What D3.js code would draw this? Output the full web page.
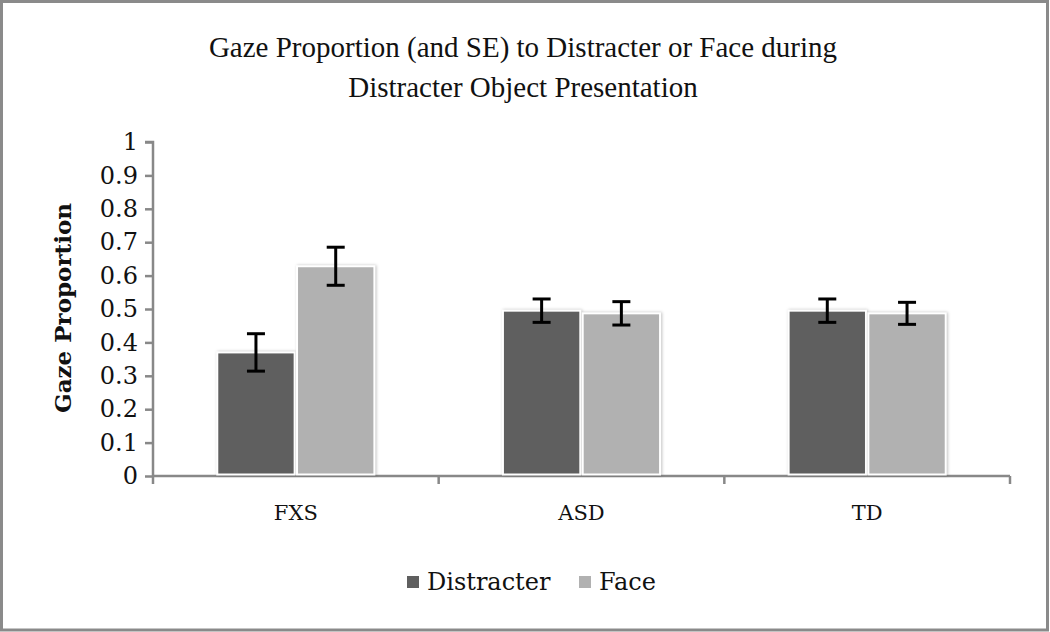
<!DOCTYPE html>
<html><head><meta charset="utf-8">
<script src="https://cdn.jsdelivr.net/npm/d3@7"></script>
<style>body{margin:0;background:#fff}svg{display:block}</style>
</head><body>
<svg id="c" width="1050" height="632"></svg>
<script>
const categories = ["FXS", "ASD", "TD"];
const seriesNames = ["Distracter", "Face"];
const distracterValues = [0.370, 0.495, 0.495];
const faceValues = [0.628, 0.487, 0.487];
const distracterSE = [0.056, 0.035, 0.035];
const faceSE = [0.057, 0.035, 0.033];
const yTicks = [0, 0.1, 0.2, 0.3, 0.4, 0.5, 0.6, 0.7, 0.8, 0.9, 1];
const titleLines = ["Gaze Proportion (and SE) to Distracter or Face during", "Distracter Object Presentation"];
const yTitle = "Gaze Proportion";
const colors = {"Distracter": "#5f5f5f", "Face": "#b1b1b1"};

const svg = d3.select("#c");
svg.append("rect").attr("x", 1.5).attr("y", 1.5).attr("width", 1046).attr("height", 628.5)
  .attr("fill", "#fff").attr("stroke", "#8a8a8a").attr("stroke-width", 3);

const pLeft = 153, pRight = 1010, pTop = 142, pBottom = 476;
const x0 = d3.scaleBand().domain(categories).range([pLeft, pRight]).paddingInner(0.45).paddingOuter(0.225);
const x1 = d3.scaleBand().domain(seriesNames).range([0, x0.bandwidth()]).paddingInner(0.03);
const y = d3.scaleLinear().domain([0, 1]).range([pBottom, pTop]);

// title
svg.append("g").selectAll("text").data(titleLines).join("text")
  .attr("x", 523).attr("y", (d, i) => 57 + i * 40)
  .attr("text-anchor", "middle").attr("font-family", "Liberation Serif")
  .attr("font-size", 29).attr("fill", "#111").text(d => d);

// y axis
const yAxis = svg.append("g").attr("transform", `translate(${pLeft},0)`)
  .call(d3.axisLeft(y).tickValues(yTicks).tickSize(8).tickPadding(7).tickFormat(d => d3.format("")(+d.toFixed(1))));
yAxis.select(".domain").attr("stroke", "#888").attr("stroke-width", 2.5).attr("d", `M-8,${pTop}H0V${pBottom}`);
yAxis.selectAll(".tick line").attr("stroke", "#888").attr("stroke-width", 2.5);
yAxis.selectAll(".tick text").attr("font-family", "DejaVu Serif").attr("font-size", 24).attr("fill", "#111");

// x axis
const bandEdges = [pLeft].concat(categories.map(c => x0(c) + x0.bandwidth() / 2 + x0.step() / 2));
const xg = svg.append("g");
xg.append("line").attr("x1", pLeft).attr("x2", pRight).attr("y1", pBottom).attr("y2", pBottom)
  .attr("stroke", "#888").attr("stroke-width", 2.5);
xg.selectAll("line.t").data(bandEdges).join("line").attr("class", "t")
  .attr("x1", d => d).attr("x2", d => d).attr("y1", pBottom).attr("y2", pBottom + 8)
  .attr("stroke", "#888").attr("stroke-width", 2.5);
xg.selectAll("text").data(categories).join("text")
  .attr("x", d => x0(d) + x0.bandwidth() / 2).attr("y", 520)
  .attr("text-anchor", "middle").attr("font-family", "DejaVu Serif").attr("font-size", 21)
  .attr("fill", "#111").text(d => d);

// y title
svg.append("text").attr("transform", "translate(71,308) rotate(-90)")
  .attr("text-anchor", "middle").attr("font-family", "DejaVu Serif").attr("font-weight", "bold")
  .attr("font-size", 23).attr("fill", "#111").text(yTitle);

// bars
const rows = categories.map((c, i) => ({cat: c, vals: [
  {s: "Distracter", v: distracterValues[i], se: distracterSE[i]},
  {s: "Face", v: faceValues[i], se: faceSE[i]}]}));
const groups = svg.append("g").selectAll("g").data(rows).join("g")
  .attr("transform", d => `translate(${x0(d.cat)},0)`);
groups.selectAll("rect").data(d => d.vals).join("rect")
  .attr("x", d => x1(d.s)).attr("width", x1.bandwidth())
  .attr("y", d => y(d.v)).attr("height", d => y(0) - y(d.v) - 1.5)
  .attr("fill", d => colors[d.s]).attr("stroke", "#fff").attr("stroke-width", 2)
  .style("filter", "drop-shadow(1px 0px 1.5px rgba(0,0,0,0.25))");
const eb = groups.selectAll("g.eb").data(d => d.vals).join("g").attr("class", "eb")
  .attr("stroke", "#000").attr("stroke-width", 3);
eb.append("line").attr("x1", d => x1(d.s) + x1.bandwidth() / 2).attr("x2", d => x1(d.s) + x1.bandwidth() / 2)
  .attr("y1", d => y(d.v + d.se)).attr("y2", d => y(d.v - d.se));
[1, -1].forEach(k => eb.append("line")
  .attr("x1", d => x1(d.s) + x1.bandwidth() / 2 - 9).attr("x2", d => x1(d.s) + x1.bandwidth() / 2 + 9)
  .attr("y1", d => y(d.v + k * d.se)).attr("y2", d => y(d.v + k * d.se)));

// legend
const legX = [407, 579];
const lg = svg.append("g").selectAll("g").data(seriesNames).join("g")
  .attr("transform", (d, i) => `translate(${legX[i]},576)`);
lg.append("rect").attr("width", 12).attr("height", 12).attr("fill", d => colors[d]);
lg.append("text").attr("x", 20).attr("y", 14).attr("font-family", "DejaVu Serif").attr("font-size", 24)
  .attr("fill", "#111").text(d => d);
</script>
</body></html>
